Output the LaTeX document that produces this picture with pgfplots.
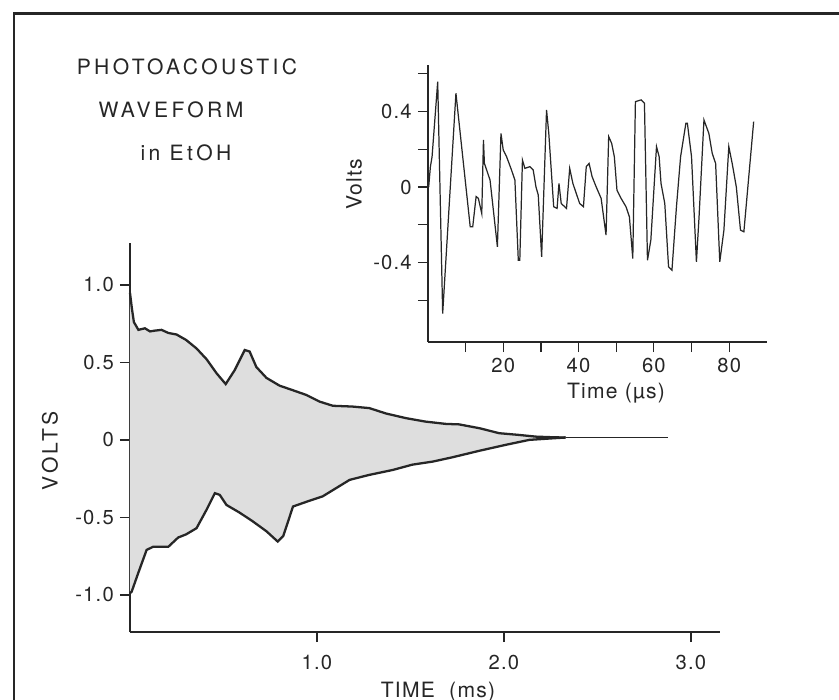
\documentclass[border=0pt]{standalone}
\usepackage{fontspec}
\setmainfont{TeX Gyre Heros}[LetterSpace=6]
\newfontfamily\spaced{TeX Gyre Heros}[LetterSpace=16]
\usepackage{pgfplots}
\pgfplotsset{compat=1.18}
\usepgfplotslibrary{fillbetween}

\definecolor{ink}{gray}{0.15}

\begin{document}
\begin{tikzpicture}[x=0.02cm, y=0.02cm]

% frame of the figure
\draw[ink, line width=1.7pt] (14,-5) -- (14,686) -- (845,686);

% main waveform
\begin{axis}[
    at={(2.6cm,1.36cm)}, anchor=south west,
    scale only axis, width=11.8cm, height=7.78cm,
    xmin=0, xmax=3.155, ymin=-1.24, ymax=1.27,
    axis x line*=bottom, axis y line*=left,
    axis line style={-, line width=1.2pt, ink},
    xtick={1,2,3}, xticklabels={1.0,2.0,3.0},
    ytick={-1,-0.5,0,0.5,1}, yticklabels={-1.0,-0.5,0,0.5,1.0},
    tick align=outside, major tick length=0.2cm,
    tick style={line width=0.8pt, ink},
    ticklabel style={font=\fontsize{11.5}{13}\selectfont, text=ink},
    xticklabel style={yshift=-0.14cm},
    clip=false, set layers,
  ]
  \addplot[name path=up, ink, line width=1.3pt] coordinates {
    (0,0.95) (0.01,0.85) (0.021,0.76) (0.045,0.71) (0.08,0.72) (0.107,0.70)
    (0.133,0.705) (0.169,0.71) (0.205,0.69) (0.249,0.68) (0.30,0.645)
    (0.356,0.59) (0.41,0.52) (0.463,0.43) (0.512,0.36) (0.56,0.45)
    (0.614,0.58) (0.64,0.57) (0.676,0.47) (0.73,0.40) (0.80,0.35)
    (0.872,0.32) (0.943,0.29) (1.014,0.247) (1.085,0.22) (1.19,0.215)
    (1.28,0.205) (1.37,0.17) (1.477,0.14) (1.58,0.118) (1.69,0.103)
    (1.76,0.10) (1.87,0.075) (1.975,0.043) (2.08,0.032) (2.17,0.021)
    (2.26,0.017) (2.33,0.015)
  };
  \addplot[name path=lo, ink, line width=1.3pt] coordinates {
    (0,-0.99) (0.009,-0.98) (0.044,-0.86) (0.089,-0.71) (0.124,-0.69)
    (0.205,-0.69) (0.258,-0.63) (0.30,-0.61) (0.356,-0.57) (0.41,-0.45)
    (0.454,-0.344) (0.48,-0.355) (0.516,-0.42) (0.587,-0.47) (0.658,-0.527)
    (0.73,-0.59) (0.79,-0.656) (0.82,-0.62) (0.872,-0.43) (0.943,-0.40)
    (1.03,-0.365) (1.175,-0.258) (1.28,-0.226) (1.406,-0.194) (1.51,-0.16)
    (1.62,-0.14) (1.726,-0.112) (1.87,-0.07) (2.01,-0.032) (2.136,0.0)
    (2.26,0.01) (2.33,0.015)
  };
  \addplot[fill=black!13, draw=none] fill between[of=up and lo];
  \addplot[ink, line width=1pt] coordinates {(2.33,0.015) (2.88,0.015)};
\end{axis}

% inset, first 90 microseconds
\begin{axis}[
    at={(8.56cm,7.16cm)}, anchor=south west,
    scale only axis, width=6.78cm, height=5.54cm,
    xmin=0, xmax=90, ymin=-0.82, ymax=0.645,
    axis x line*=bottom, axis y line*=left,
    axis line style={-, line width=0.9pt, ink},
    xtick={20,40,60,80}, minor xtick={10,30,50,70},
    ytick={-0.4,0,0.4}, yticklabels={-0.4,0,0.4},
    minor ytick={-0.6,-0.2,0.2,0.6},
    xticklabels={20,40,60,80},
    tick align=outside, major tick length=0.2cm, minor tick length=0.2cm,
    tick style={line width=0.7pt, ink},
    ticklabel style={font=\fontsize{11.5}{13}\selectfont, text=ink},
    clip=false,
  ]
  \addplot[ink, line width=0.7pt] coordinates {
    (0.2,0.0) (0.66,0.108) (1.1,0.16) (2.6,0.558) (3.92,-0.669) (7.44,0.496)
    (11.23,-0.21) (11.9,-0.21) (12.8,-0.05) (13.4,-0.06) (14.3,-0.14)
    (14.75,0.249) (15.0,0.125) (15.6,0.09) (16.5,0.037) (18.45,-0.316)
    (19.4,0.284) (20.0,0.196) (20.9,0.16) (22.2,0.09) (23.1,0.037)
    (24.0,-0.387) (24.4,-0.387) (25.1,0.143) (25.75,0.099) (27.1,0.108)
    (27.96,0.09) (28.7,0.0) (29.3,-0.042) (30.2,-0.369) (31.5,0.408)
    (32.1,0.284) (33.4,-0.104) (34.3,-0.113) (34.8,0.019) (35.4,-0.087)
    (36.8,-0.113) (37.65,0.099) (38.5,0.019) (40.3,-0.087) (41.3,-0.104)
    (42.05,0.108) (42.8,0.125) (43.6,0.055) (44.7,0.0) (46.0,-0.06)
    (47.3,-0.254) (48.0,0.267) (48.8,0.231) (49.5,0.161) (50.2,-0.016)
    (51.3,-0.06) (52.6,-0.104) (53.5,-0.157) (54.4,-0.378) (55.1,0.452)
    (56.6,0.461) (57.5,0.443) (58.3,-0.387) (59.2,-0.28) (60.7,0.214)
    (61.4,0.161) (61.9,0.019) (62.9,-0.087) (63.9,-0.422) (64.8,-0.44)
    (66.0,-0.104) (67.1,0.161) (68.5,0.337) (68.9,0.337) (70.0,0.161)
    (71.3,-0.396) (72.0,-0.157) (73.3,0.355) (74.6,0.284) (75.5,0.178)
    (76.4,0.125) (77.5,-0.396) (78.6,-0.228) (79.9,0.214) (80.8,0.125)
    (81.9,0.0) (83.0,-0.228) (83.9,-0.237) (86.5,0.346)
  };
\end{axis}

% labels
\begin{scope}[every node/.style={text=ink, font=\fontsize{12}{14}\selectfont}]
  \node[rotate=90] at (50,249) {\spaced VOLTS};
  \node at (438,8) {TIME\ \ (ms)};
  \node[rotate=90] at (354,516) {Volts};
  \node at (616,307) {Time (µs)};
  \node at (187,633) {\spaced PHOTOACOUSTIC};
  \node at (171,590) {\spaced WAVEFORM};
  \node at (186,547) {\spaced in EtOH};
\end{scope}

\pgfresetboundingbox
\useasboundingbox (0,0) rectangle (839,700);
\end{tikzpicture}
\end{document}
